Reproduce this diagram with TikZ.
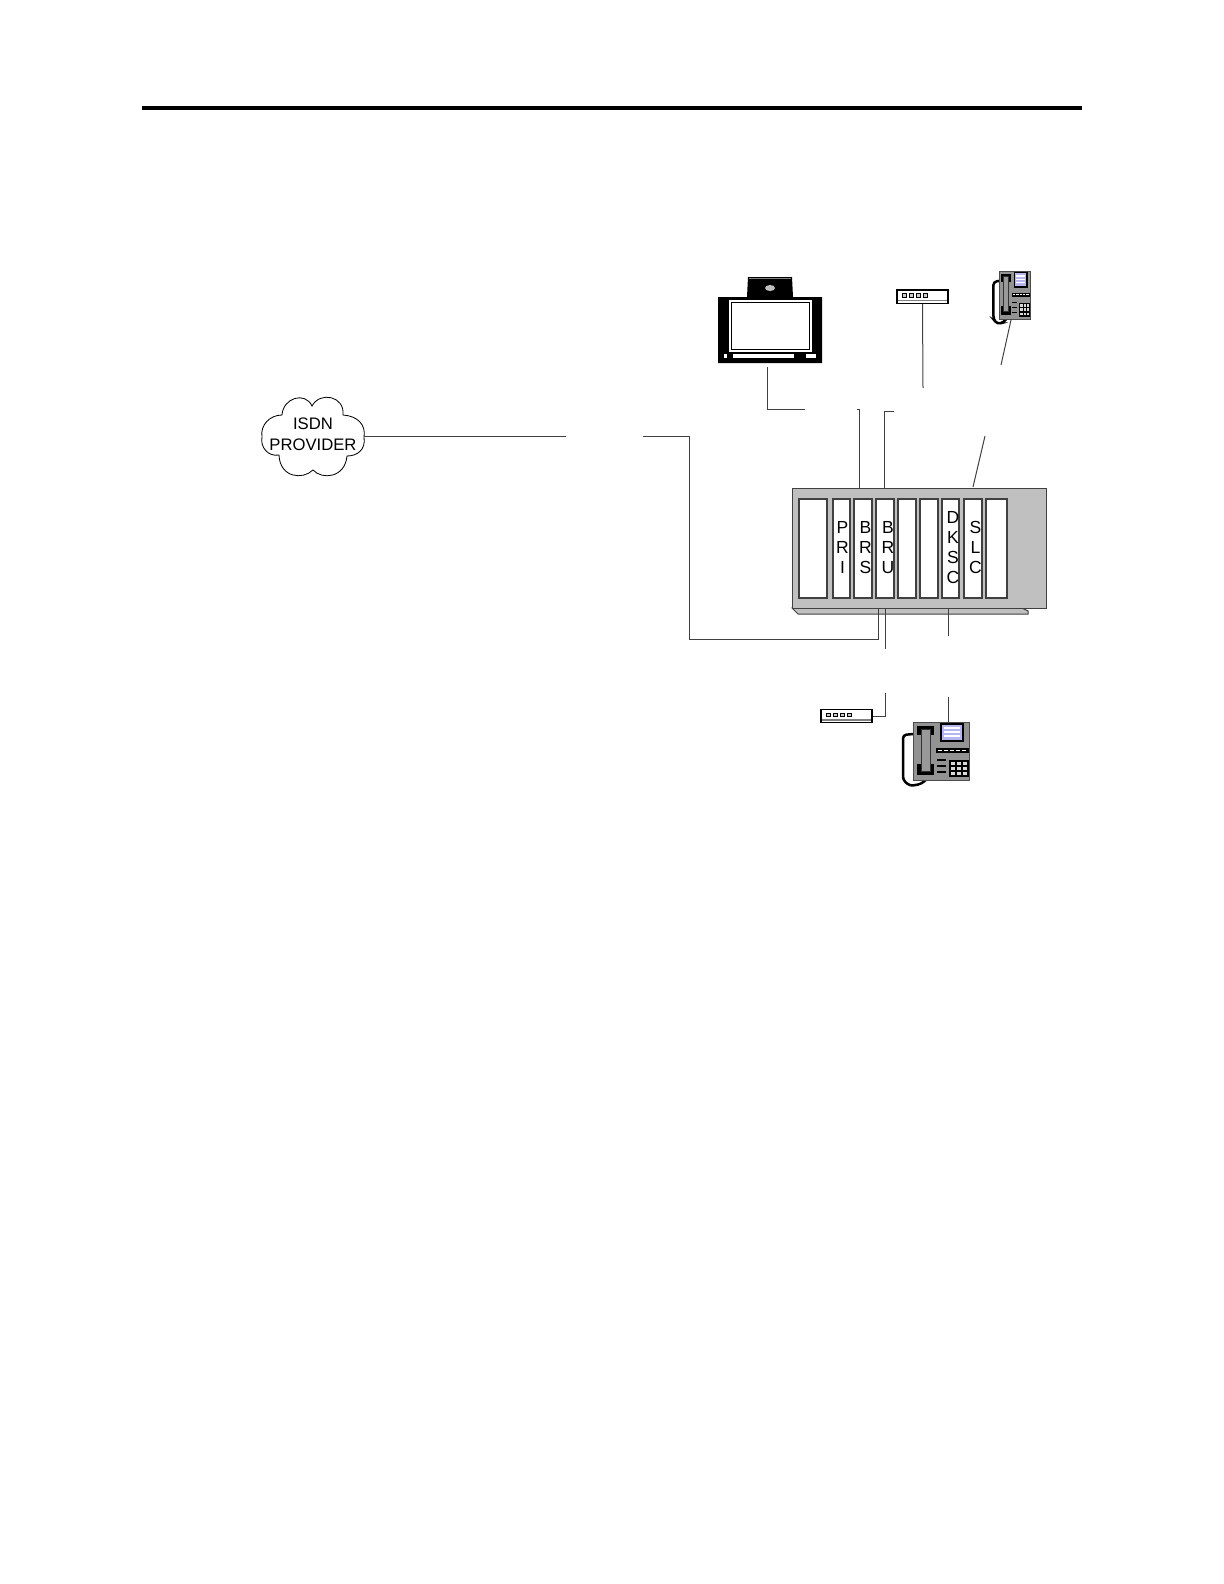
\documentclass[tikz,border=0pt]{standalone}
\usepackage{fontspec}
\setmainfont{Liberation Sans}
\usepackage{xcolor}
\definecolor{shelfgray}{HTML}{C0C0C0}
\definecolor{wiregray}{HTML}{404040}
\definecolor{screenblue}{HTML}{6A6AE0}
\tikzset{
  wire/.style={wiregray,line width=0.6pt},
  slotbox/.style={draw=wiregray,fill=white,line width=0.7pt,inner sep=0pt,minimum height=59.4pt},
  slotlabel/.style={align=center,font=\fontsize{10.5}{12}\selectfont,inner sep=0pt},
  modembox/.style={draw=black,fill=white,line width=0.8pt,inner sep=0pt,minimum width=30.6pt,minimum height=8pt},
  deskphone/.pic={
    \draw[black,line width=1.5pt,rounded corners=2pt] (0,12) -- (-10,13) -- (-10,58) -- (-3,64) -- (8,62) -- (14,57);
    \draw[fill=gray!85,draw=black!70,line width=0.6pt] (0,0) rectangle (56,58);
    \fill[black] (4,4) rectangle (21,13);
    \fill[black] (4,42) rectangle (21,53);
    \fill[black!40,draw=black!80] (8,7) rectangle (17,49);
    \fill[black] (27,1) rectangle (51,20);
    \fill[screenblue!50] (29,3) rectangle (49,18);
    \foreach \yy in {6,10,14} \draw[white,line width=0.8pt] (31,\yy) -- (47,\yy);
    \fill[black] (23,26) rectangle (56,31);
    \foreach \xx in {25,31,37,43,49} \draw[white,line width=0.5pt] (\xx,28.5) -- (\xx+4,28.5);
    \fill[black] (36,38) rectangle (56,55);
    \foreach \xx in {38,44,50} \foreach \yy in {40,45,50} \fill[white!70!gray] (\xx,\yy) rectangle (\xx+4,\yy+3);
    \foreach \yy in {38,44,50} \draw[black,line width=1pt] (24,\yy) -- (33,\yy);
  }
}
\begin{document}
\begin{tikzpicture}[x=0.6pt,y=-0.6pt]
\useasboundingbox (0,0) rectangle (1224,1584);

% top rule
\draw[black,line width=2.2pt] (142,108) -- (1082,108);

% cloud
\draw[black,line width=0.5pt] (282,415) .. controls (283,398) and (305,391) .. (312,406)
  .. controls (320,391) and (345,396) .. (343,415)
  .. controls (358,416) and (366,425) .. (364,437)
  .. controls (366,450) and (357,456) .. (347,456)
  .. controls (345,478) and (322,480) .. (313,470)
  .. controls (303,480) and (280,478) .. (279,455)
  .. controls (268,457) and (260,447) .. (262,437)
  .. controls (260,425) and (270,415) .. (282,415);
\node[align=center,font=\fontsize{10}{12.6}\selectfont,inner sep=0pt] (provider) at (313,434.5) {ISDN\\PROVIDER};
\coordinate (cloud east) at (364,436);

% video unit
\fill[black] (748,277) -- (792,277) -- (793,297) -- (822,297) -- (822,363) -- (718,363) -- (718,297) -- (747,297) -- cycle;
\draw[gray,line width=0.6pt] (749,278) -- (791,278);
\fill[gray!50] (770,288) ellipse (5 and 3);
\fill[white] (729,300) rectangle (812,352);
\draw[black,line width=0.6pt] (731,302) rectangle (809,349);
\fill[white] (733,354) rectangle (794,358);
\fill[white] (806,354) rectangle (816,358);
\fill[white] (724,354) rectangle (727,358);
\coordinate (video foot) at (767,367);

% modems
\node[modembox] (modem top) at (922.5,296.5) {};
\node[modembox] (modem low) at (846.5,716) {};
\draw[gray,line width=0.8pt] (898,300.5) -- (947,300.5);
\draw[gray,line width=0.8pt] (822,720) -- (871,720);
\foreach \xx in {5,12,19,26} {
  \draw[black,fill=gray!40,line width=0.4pt] (897+\xx,293.5) rectangle ++(4.5,3.5);
  \draw[black,fill=gray!40,line width=0.4pt] (821+\xx,713) rectangle ++(4.5,3.5);
}

% phones
\pic[xscale=0.56,yscale=0.83] at (999,271) {deskphone};
\pic at (913,722) {deskphone};

% shelf
\fill[shelfgray,draw=wiregray,line width=0.6pt] (792,608) -- (798,614) -- (1028,614) -- (1028,611) -- (1022,608) -- cycle;
\node[draw=wiregray,fill=shelfgray,line width=0.7pt,inner sep=0pt,minimum width=152.6pt,minimum height=72pt] (shelf) at (919.5,548.5) {};
\foreach \nm/\xx/\slotw in {a/813/28,pri/841.5/17,brs/863/18,bru/885/18,e/907/18,f/929/18,dksc/950.5/17,slc/973/18,g/996.5/21}
  \node[slotbox,minimum width=\slotw*0.6pt] (slot \nm) at (\xx,548.5) {};
\node[slotlabel] (pri) at (842.5,547.5) {P\\R\\I};
\node[slotlabel] (brs) at (865.5,547.5) {B\\R\\S};
\node[slotlabel] (bru) at (888,547.5) {B\\R\\U};
\node[slotlabel] (dksc) at (953,548) {D\\K\\S\\C};
\node[slotlabel] (slc) at (975.5,547.5) {S\\L\\C};

% free ends of the broken lines
\coordinate (line west) at (566,436);
\coordinate (line east) at (643,436);
\coordinate (line corner) at (689,639);
\coordinate (line up) at (878,639);
\coordinate (video end) at (805,409);
\coordinate (pri stub) at (857,409);
\coordinate (pri up) at (859,409);
\coordinate (bru stub) at (894,411);
\coordinate (bru up) at (884,411);
\coordinate (modem end) at (923,388);
\coordinate (phone a foot) at (1011,320);
\coordinate (phone a end) at (1001,365);
\coordinate (shelf a end) at (985,436);
\coordinate (shelf a foot) at (973,487);
\coordinate (bru down) at (885,649);
\coordinate (modem low up) at (885,693);
\coordinate (dksc down) at (948,636);
\coordinate (dksc base) at (948,608);
\coordinate (phone b end) at (948,697);
\coordinate (phone b top) at (948,723);

% connectors
\draw[wire] (cloud east) -- (line west);
\draw[wire] (line east) -| (line corner) -- (line up) -- (line up |- shelf.south);
\draw[wire] (video foot) |- (video end);
\draw[wire] (pri stub) -- (pri up) -- (pri up |- shelf.north);
\draw[wire] (bru stub) -- (bru up) -- (bru up |- shelf.north);
\draw[wire] (modem top.south) -- (modem end);
\draw[wire] (phone a foot) -- (phone a end);
\draw[wire] (shelf a end) -- (shelf a foot);
\draw[wire] (bru down) -- (bru down |- shelf.south);
\draw[wire] (modem low.east) -| (modem low up);
\draw[wire] (dksc base) -- (dksc down);
\draw[wire] (phone b end) -- (phone b top);
\end{tikzpicture}
\end{document}
